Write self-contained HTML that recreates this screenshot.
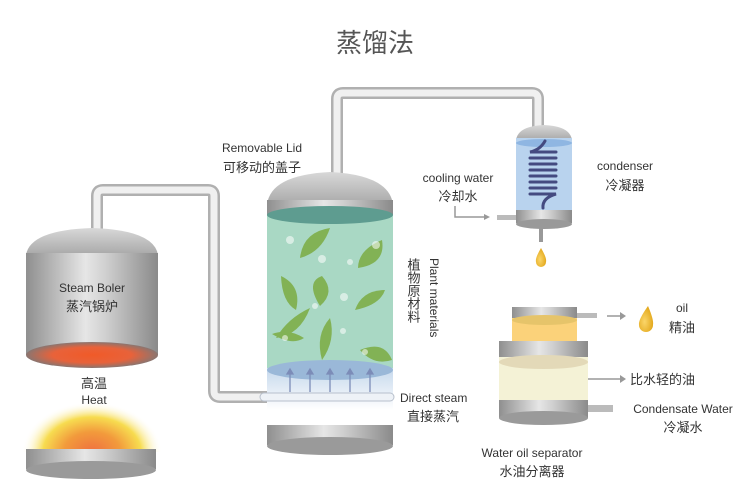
<!DOCTYPE html>
<html><head><meta charset="utf-8"><style>
html,body{margin:0;padding:0;background:#fff}
svg{display:block}
text{font-family:"Liberation Sans","Noto Sans CJK SC",sans-serif;fill:#333}
</style></head><body>
<svg width="750" height="500" viewBox="0 0 750 500" xmlns="http://www.w3.org/2000/svg">
<defs>
<linearGradient id="metal" x1="0" x2="1" y1="0" y2="0">
<stop offset="0" stop-color="#8f8f8f"/><stop offset="0.45" stop-color="#e6e6e6"/><stop offset="0.6" stop-color="#d0d0d0"/><stop offset="1" stop-color="#8a8a8a"/></linearGradient>
<linearGradient id="dome" x1="0" x2="0" y1="0" y2="1">
<stop offset="0" stop-color="#d8d8d8"/><stop offset="1" stop-color="#a8a8a8"/></linearGradient>
<radialGradient id="fire" cx="0.5" cy="0.5" r="0.5">
<stop offset="0" stop-color="#f05a28"/><stop offset="0.6" stop-color="#e8623a"/><stop offset="1" stop-color="#8a7570"/></radialGradient>
<radialGradient id="glow" cx="0.5" cy="0.5" r="0.5">
<stop offset="0" stop-color="#ef7040"/><stop offset="0.4" stop-color="#f29a3c"/><stop offset="0.7" stop-color="#f7dc50"/><stop offset="1" stop-color="#fff" stop-opacity="0"/></radialGradient>
<linearGradient id="steam" x1="0" x2="0" y1="0" y2="1"><stop offset="0" stop-color="#c5d8ec"/><stop offset="1" stop-color="#fff"/></linearGradient>
<radialGradient id="drop" cx="0.4" cy="0.6" r="0.6"><stop offset="0" stop-color="#fbd66a"/><stop offset="1" stop-color="#e3a81c"/></radialGradient>
<clipPath id="gc"><rect x="0" y="380" width="200" height="72"/></clipPath>
</defs>

<text x="375" y="52" font-size="26" text-anchor="middle" style="fill:#555">蒸馏法</text>

<g fill="none" stroke-linejoin="round">
<path d="M97 232 V196 Q97 190 103 190 H208 Q214 190 214 196 V391 Q214 397 220 397 H268" stroke="#b0b0b0" stroke-width="12"/>
<path d="M97 232 V196 Q97 190 103 190 H208 Q214 190 214 196 V391 Q214 397 220 397 H268" stroke="#f0f0f0" stroke-width="7"/>
<path d="M337 176 V99 Q337 93 343 93 H532 Q538 93 538 99 V128" stroke="#b0b0b0" stroke-width="12"/>
<path d="M337 176 V99 Q337 93 343 93 H532 Q538 93 538 99 V128" stroke="#f0f0f0" stroke-width="7"/>
</g>

<!-- boiler -->
<path d="M26 255 Q30 230 92 228 Q154 230 158 255 Z" fill="url(#dome)"/>
<rect x="26" y="253" width="132" height="102" fill="url(#metal)"/>
<ellipse cx="92" cy="355" rx="66" ry="13" fill="url(#fire)"/>
<text x="92" y="292" font-size="12" text-anchor="middle">Steam Boler</text>
<text x="92" y="311" font-size="13" text-anchor="middle">蒸汽锅炉</text>
<text x="94" y="388" font-size="13" text-anchor="middle">高温</text>
<text x="94" y="404" font-size="12" text-anchor="middle">Heat</text>
<ellipse cx="92" cy="452" rx="70" ry="50" fill="url(#glow)" clip-path="url(#gc)"/>
<rect x="26" y="449" width="130" height="20" fill="url(#metal)"/>
<ellipse cx="91" cy="470" rx="65" ry="9" fill="#9a9a9a"/>

<!-- column -->
<path d="M267 205 Q270 175 330 172 Q390 175 393 205 Z" fill="url(#dome)"/>
<rect x="267" y="200" width="126" height="15" fill="url(#metal)"/>
<rect x="267" y="215" width="126" height="160" fill="#a9d8c4"/>
<ellipse cx="330" cy="215" rx="63" ry="9" fill="#5e9c90"/>
<rect x="267" y="368" width="126" height="42" fill="url(#steam)"/>
<ellipse cx="330" cy="370" rx="63" ry="10" fill="#9ab8d8"/>
<g fill="#80b050" opacity="0.95">
<path d="M300 258 Q303 232 330 228 Q322 252 300 258Z"/>
<path d="M358 268 Q386 264 382 240 Q358 250 358 268Z"/>
<path d="M281 276 Q282 302 296 310 Q302 286 281 276Z"/>
<path d="M320 306 Q305 282 322 276 Q336 292 320 306Z"/>
<path d="M355 310 Q380 305 385 290 Q362 290 355 310Z"/>
<path d="M276 338 Q300 335 310 308 Q288 318 276 338Z"/>
<path d="M322 360 Q336 340 330 318 Q315 335 322 360Z"/>
<path d="M360 350 Q384 340 392 360 Q374 366 360 350Z"/>
<path d="M272 334 Q292 346 304 338 Q288 328 272 334Z"/>
</g>
<g fill="#fff" opacity="0.55">
<circle cx="290" cy="240" r="4"/><circle cx="376" cy="245" r="4"/><circle cx="350" cy="262" r="3"/><circle cx="322" cy="259" r="4"/><circle cx="344" cy="297" r="4"/><circle cx="315" cy="306" r="3"/><circle cx="343" cy="331" r="3"/><circle cx="285" cy="338" r="3"/><circle cx="365" cy="352" r="3"/></g>
<g stroke="#7c8cb8" stroke-width="1.3" fill="#7c8cb8">
<line x1="290" y1="392" x2="290" y2="372"/><path d="M287 374 L290 369 L293 374Z"/>
<line x1="310" y1="392" x2="310" y2="372"/><path d="M307 374 L310 369 L313 374Z"/>
<line x1="330" y1="392" x2="330" y2="372"/><path d="M327 374 L330 369 L333 374Z"/>
<line x1="350" y1="392" x2="350" y2="372"/><path d="M347 374 L350 369 L353 374Z"/>
<line x1="370" y1="392" x2="370" y2="372"/><path d="M367 374 L370 369 L373 374Z"/>
</g>
<rect x="260" y="393" width="134" height="8" rx="4" fill="#eef2f7" stroke="#b8c0cc"/>
<rect x="267" y="425" width="126" height="20" fill="url(#metal)"/>
<ellipse cx="330" cy="446" rx="63" ry="9" fill="#9a9a9a"/>
<text x="262" y="152" font-size="12" text-anchor="middle">Removable Lid</text>
<text x="262" y="172" font-size="13" text-anchor="middle">可移动的盖子</text>
<text font-size="13" x="413" y="258" style="writing-mode:vertical-rl">植物原材料</text>
<text font-size="12" x="428" y="258" transform="rotate(90 428 258)" dy="-2">Plant materials</text>
<text x="400" y="402" font-size="12">Direct steam</text>
<text x="407" y="421" font-size="13">直接蒸汽</text>

<!-- condenser -->
<path d="M516 140 Q518 126 544 125 Q570 126 572 140 Z" fill="url(#dome)"/>
<rect x="516" y="138" width="56" height="72" fill="#b9d3ee"/>
<ellipse cx="544" cy="143" rx="28" ry="4" fill="#8fb6e2"/>
<path d="M545 141 Q540 150 530 152 H556 M530 158 H556 M530 164 H556 M530 170 H556 M530 176 H556 M530 182 H556 M530 188 H556 M530 194 H556 Q542 198 543 208" fill="none" stroke="#444a80" stroke-width="3" stroke-linecap="round"/>
<rect x="516" y="210" width="56" height="13" fill="url(#metal)"/>
<ellipse cx="544" cy="224" rx="28" ry="5" fill="#999"/>
<rect x="497" y="215" width="19" height="5" fill="#bbb"/>
<rect x="539" y="228" width="4" height="14" fill="#999"/>
<path d="M541 248 Q535 258 536 262 A5 5 0 0 0 546 262 Q547 258 541 248Z" fill="url(#drop)"/>
<text x="458" y="182" font-size="12" text-anchor="middle">cooling water</text>
<text x="458" y="201" font-size="13" text-anchor="middle">冷却水</text>
<path d="M455 206 V217 H486" fill="none" stroke="#999" stroke-width="1.5"/>
<path d="M484 214 L490 217 L484 220Z" fill="#999"/>
<text x="625" y="170" font-size="12" text-anchor="middle">condenser</text>
<text x="625" y="190" font-size="13" text-anchor="middle">冷凝器</text>

<!-- separator -->
<rect x="512" y="318" width="65" height="26" fill="#fbd27a"/>
<rect x="512" y="307" width="65" height="11" fill="url(#metal)"/>
<ellipse cx="544.5" cy="320" rx="32.5" ry="5" fill="#e6c46a"/>
<rect x="577" y="313" width="20" height="5" fill="#bbb"/>
<line x1="607" y1="316" x2="622" y2="316" stroke="#999" stroke-width="1.5"/><path d="M620 312 L626 316 L620 320Z" fill="#999"/>
<path d="M648 306 Q638 320 639 325 A7 7 0 0 0 653 325 Q654 320 648 306Z" fill="url(#drop)"/>
<text x="682" y="312" font-size="12" text-anchor="middle">oil</text>
<text x="682" y="332" font-size="13" text-anchor="middle">精油</text>
<rect x="499" y="345" width="89" height="55" fill="#f4f2d6"/>
<rect x="499" y="341" width="89" height="16" fill="url(#metal)"/>
<ellipse cx="543.5" cy="362" rx="44.5" ry="7" fill="#e3d9b8"/>
<rect x="499" y="400" width="89" height="18" fill="url(#metal)"/>
<ellipse cx="543.5" cy="418" rx="44.5" ry="7" fill="#9a9a9a"/>
<rect x="588" y="405" width="25" height="7" fill="#bbb"/>
<line x1="588" y1="379" x2="622" y2="379" stroke="#999" stroke-width="1.5"/><path d="M620 375 L626 379 L620 383Z" fill="#999"/>
<text x="630" y="384" font-size="13">比水轻的油</text>
<text x="683" y="413" font-size="12" text-anchor="middle">Condensate Water</text>
<text x="683" y="432" font-size="13" text-anchor="middle">冷凝水</text>
<text x="532" y="457" font-size="12" text-anchor="middle">Water oil separator</text>
<text x="532" y="476" font-size="13" text-anchor="middle">水油分离器</text>
</svg>
</body></html>
